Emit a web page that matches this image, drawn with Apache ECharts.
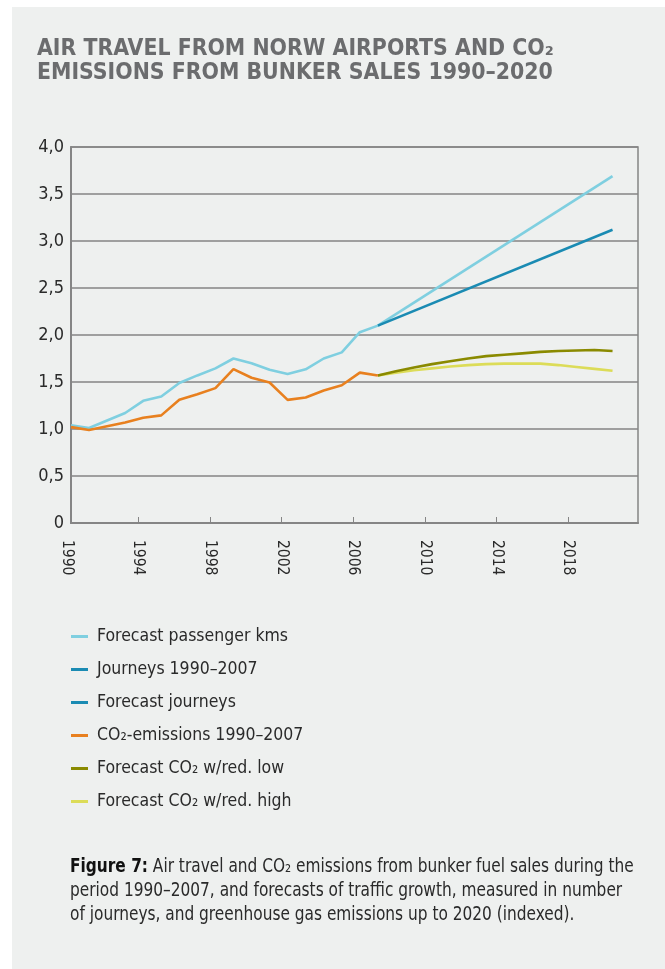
<!DOCTYPE html>
<html><head><meta charset="utf-8">
<script src="https://cdn.jsdelivr.net/npm/echarts@6/dist/echarts.min.js"></script>
<style>
html,body{margin:0;padding:0;background:#ffffff;}
#panel{position:absolute;left:12px;top:7px;width:653px;height:962px;background:#eef0ef;}
#c{position:absolute;left:0;top:0;width:665px;height:969px;}
</style>
</head><body><div id="panel"></div><div id="c"></div>
<script>
// ---- data ----
const histYears = [1990,1991,1992,1993,1994,1995,1996,1997,1998,1999,2000,2001,2002,2003,2004,2005,2006,2007];
const journeysHist = [1.04,1.01,1.09,1.17,1.30,1.345,1.49,1.57,1.645,1.75,1.70,1.63,1.585,1.635,1.75,1.815,2.03,2.10];
const co2Hist = [1.02,0.99,1.03,1.07,1.12,1.145,1.31,1.37,1.435,1.637,1.545,1.495,1.31,1.335,1.41,1.465,1.60,1.57];
const forecastYears = [2007,2020];
const forecastPkm = [2.10,3.69];
const forecastJourneys = [2.10,3.12];
const co2Years = [2007,2008,2009,2010,2011,2012,2013,2014,2015,2016,2017,2018,2019,2020];
const co2Low = [1.57,1.615,1.655,1.69,1.72,1.75,1.775,1.79,1.805,1.82,1.83,1.835,1.84,1.83];
const co2High = [1.57,1.60,1.625,1.645,1.665,1.68,1.69,1.695,1.695,1.695,1.68,1.66,1.64,1.62];
const xTickYears = [1990,1994,1998,2002,2006,2010,2014,2018];
const legendNames = ['Forecast passenger kms','Journeys 1990–2007','Forecast journeys','CO₂-emissions 1990–2007','Forecast CO₂ w/red. low','Forecast CO₂ w/red. high'];
const legendColors = ['#7fcfe0','#1a8bb3','#1a8bb3','#e8801f','#8a8a00','#dcdc58'];

const pairs = (xs, ys) => xs.map((x, i) => [x, ys[i]]);
const NARROW = "'DejaVu Sans Condensed','Liberation Sans Narrow',sans-serif";

const chart = echarts.init(document.getElementById('c'), null, {renderer:'canvas'});
const lineSeries = (name, data, color, z) => ({
  name, type:'line', xAxisIndex:0, yAxisIndex:0, data, showSymbol:false, symbol:'none',
  lineStyle:{color, width:2.6}, itemStyle:{color}, z, emphasis:{disabled:true}, silent:true
});

chart.setOption({
  backgroundColor:'transparent',
  animation:false,
  grid:[
    {left:71, right:27, top:147, bottom:446, show:true, borderColor:'#858585', borderWidth:1.5, backgroundColor:'transparent'},
    {left:66.6, right:25.1, top:147, bottom:446, show:false}
  ],
  xAxis:[
    {gridIndex:0, type:'value', position:'bottom', min:1990, max:2021.41,
     axisLine:{show:true, lineStyle:{color:'#858585', width:2}},
     axisTick:{show:false}, axisLabel:{show:false}, splitLine:{show:false}},
    {gridIndex:1, type:'value', position:'bottom', min:1990, max:2022,
     axisLine:{show:false},
     axisTick:{show:true, inside:true, length:6, customValues:xTickYears.slice(1), lineStyle:{color:'#858585', width:1}},
     splitLine:{show:false},
     axisLabel:{customValues:xTickYears, rotate:-90, margin:17, fontFamily:NARROW, fontSize:15.5, color:'#2a2a2a',
       formatter:(v)=>String(v)}
    }
  ],
  yAxis:[
    {gridIndex:0, type:'value', min:0, max:4, interval:0.5,
    axisLine:{show:true, lineStyle:{color:'#858585', width:2}},
    axisTick:{show:false},
    splitLine:{show:true, lineStyle:{color:'#858585', width:1.5}},
    axisLabel:{margin:7, fontFamily:NARROW, fontSize:18, color:'#2a2a2a',
      formatter:(v)=> v===0 ? '0' : v.toFixed(1).replace('.', ',')}},
    {gridIndex:1, type:'value', min:0, max:4, show:false}
  ],
  legend:{orient:'vertical', left:71, top:627, padding:0, itemGap:14, itemWidth:17, itemHeight:3, icon:'rect',
    selectedMode:false,
    textStyle:{fontFamily:NARROW, fontSize:17.5, lineHeight:19, color:'#2a2a2a', padding:[0,0,0,4]},
    data: legendNames.map((n,i)=>({name:n, itemStyle:{color:legendColors[i]}}))
  },
  series:[
    lineSeries(legendNames[5], pairs(co2Years, co2High), legendColors[5], 2),
    lineSeries(legendNames[4], pairs(co2Years, co2Low), legendColors[4], 3),
    Object.assign(lineSeries(legendNames[1], pairs(histYears, journeysHist), legendColors[1], 4), {lineStyle:{color:legendColors[0], width:2.6}}),
    lineSeries(legendNames[0], pairs(forecastYears, forecastPkm), legendColors[0], 4),
    lineSeries(legendNames[2], pairs(forecastYears, forecastJourneys), legendColors[2], 5),
    lineSeries(legendNames[3], pairs(histYears, co2Hist), legendColors[3], 5)
  ],
  graphic:[
    {type:'text', left:37, top:37, style:{text:'AIR TRAVEL FROM NORW AIRPORTS AND CO₂\nEMISSIONS FROM BUNKER SALES 1990–2020',
      font:"bold 22.8px 'DejaVu Sans Condensed','Liberation Sans Narrow',sans-serif", fill:'#6b6c6e', lineHeight:24}},
    {type:'text', x:70, y:855, scaleX:0.90, style:{
      text:'{b|Figure 7:} Air travel and CO₂ emissions from bunker fuel sales during the\nperiod 1990–2007, and forecasts of traffic growth, measured in number\nof journeys, and greenhouse gas emissions up to 2020 (indexed).',
      font:"19px "+NARROW, fill:'#2a2a2a', lineHeight:24,
      rich:{b:{font:"bold 19px "+NARROW, fill:'#111'}}}}
  ]
});
</script>
</body></html>
